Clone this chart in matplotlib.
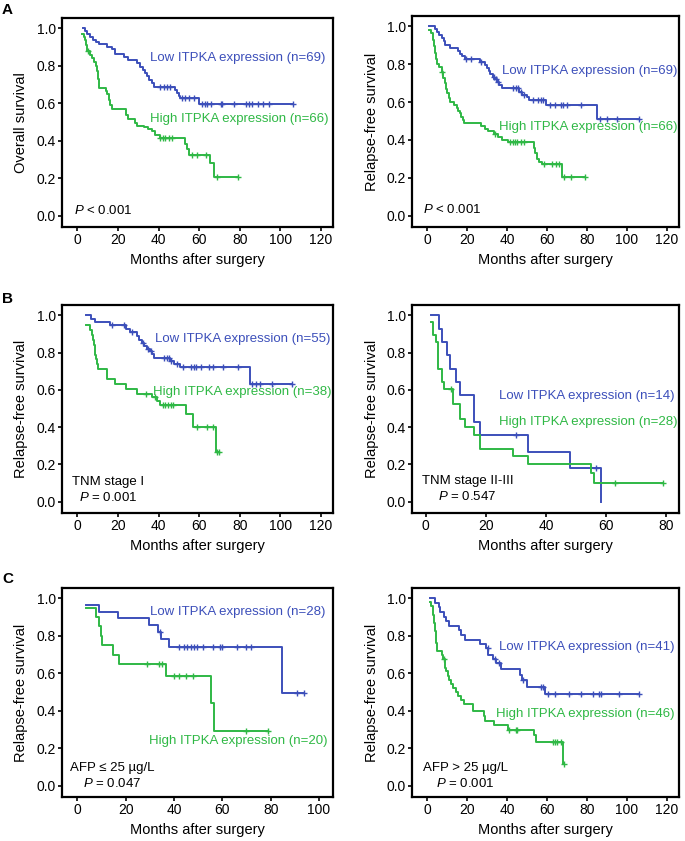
import numpy as np
import matplotlib
matplotlib.use('Agg')
import matplotlib.pyplot as plt

plt.rcParams['font.family'] = ['Liberation Sans', 'DejaVu Sans']
plt.rcParams['mathtext.fontset'] = 'custom'
plt.rcParams['mathtext.it'] = 'Liberation Sans:italic'
plt.rcParams['mathtext.rm'] = 'Liberation Sans'

BLUE = '#3c4fba'
GREEN = '#2fb845'

# --- A, overall survival ---
a1_low_start = (3.0, 1.0)
a1_low_t = [3.6, 4.8, 6.1, 7.8, 9.4, 10.8, 14.4, 16.9, 18.5, 23.0, 25.2, 29.3, 31.0, 32.6, 33.4,
            34.3, 35.1, 36.8, 37.6, 38.0, 48.3, 49.2, 50.0, 50.8, 59.9]
a1_low_s = [0.985, 0.97, 0.955, 0.94, 0.929, 0.915, 0.90, 0.89, 0.861, 0.845, 0.83, 0.813, 0.795,
            0.78, 0.76, 0.745, 0.724, 0.71, 0.70, 0.685, 0.67, 0.655, 0.64, 0.626, 0.594]
a1_low_cens = [40.9, 42.5, 44.2, 45.9, 51.7, 53.3, 55.0, 57.4, 61.6, 62.7, 64.0, 66.0, 70.7, 71.5,
               77.3, 83.1, 84.8, 86.0, 88.9, 91.4, 94.7, 106.3]
a1_low_end = 106.3

a1_high_start = (2.5, 0.97)
a1_high_t = [3.5, 4.0, 4.5, 5.0, 6.0, 7.0, 8.0, 9.0, 9.5, 10.3, 10.6, 14.0, 14.5, 15.5, 16.2, 17.2,
             24.2, 25.0, 28.5, 29.5, 33.0, 35.0, 37.0, 38.5, 40.5, 53.3, 54.2, 55.2, 65.3, 67.5]
a1_high_s = [0.955, 0.94, 0.91, 0.88, 0.86, 0.84, 0.82, 0.80, 0.77, 0.73, 0.68, 0.665, 0.65, 0.62,
             0.59, 0.57, 0.537, 0.516, 0.496, 0.48, 0.475, 0.465, 0.45, 0.43, 0.416, 0.385, 0.355,
             0.324, 0.279, 0.208]
a1_high_cens = [5.3, 40.9, 42.0, 43.4, 45.0, 46.7, 56.6, 59.0, 63.2, 69.0, 79.3]
a1_high_end = 79.3

# --- A, relapse-free survival ---
a2_low_start = (0.8, 1.0)
a2_low_t = [3.8, 5.0, 6.0, 7.4, 8.2, 9.0, 11.2, 15.6, 16.4, 17.3, 18.9, 26.3, 28.8, 30.0, 30.8,
            31.6, 32.9, 33.7, 34.8, 36.2, 37.3, 46.0, 47.7, 49.8, 51.0, 59.5, 85.0]
a2_low_s = [0.985, 0.97, 0.955, 0.94, 0.925, 0.90, 0.885, 0.87, 0.855, 0.842, 0.826, 0.81, 0.795,
            0.78, 0.765, 0.75, 0.735, 0.72, 0.705, 0.69, 0.677, 0.655, 0.64, 0.625, 0.613, 0.583,
            0.509]
a2_low_cens = [19.7, 22.0, 27.0, 33.5, 34.3, 35.3, 43.0, 44.5, 45.5, 47.0, 48.7, 53.0, 55.5, 57.0,
               58.0, 61.5, 64.0, 67.0, 68.0, 70.0, 77.0, 86.5, 90.0, 95.0, 106.0]
a2_low_end = 106.0

a2_high_start = (0.8, 0.982)
a2_high_t = [2.1, 2.7, 3.0, 3.3, 3.8, 4.3, 4.9, 5.8, 7.4, 8.0, 8.7, 9.2, 9.8, 10.7, 11.5, 13.2,
             14.8, 15.6, 16.4, 17.2, 17.8, 18.6, 27.0, 29.0, 30.7, 33.4, 35.3, 37.3, 40.3, 53.4,
             54.2, 54.8, 55.9, 57.5, 67.7]
a2_high_s = [0.965, 0.95, 0.93, 0.895, 0.86, 0.83, 0.80, 0.787, 0.76, 0.73, 0.70, 0.67, 0.65, 0.62,
             0.60, 0.585, 0.57, 0.555, 0.54, 0.52, 0.505, 0.491, 0.475, 0.46, 0.445, 0.43, 0.415,
             0.40, 0.39, 0.36, 0.33, 0.30, 0.285, 0.273, 0.202]
a2_high_cens = [7.5, 34.0, 41.5, 43.0, 44.0, 45.0, 47.0, 48.5, 58.5, 62.5, 64.5, 66.0, 68.5, 72.0,
                79.0]
a2_high_end = 79.0

# --- B, TNM stage I ---
b1_low_start = (4.1, 1.0)
b1_low_t = [6.5, 8.6, 16.0, 24.0, 26.0, 29.3, 30.5, 31.8, 33.0, 34.3, 36.0, 37.0, 38.0, 45.9, 47.5,
            50.8, 85.0]
b1_low_s = [0.982, 0.966, 0.946, 0.928, 0.91, 0.89, 0.87, 0.85, 0.835, 0.82, 0.81, 0.79, 0.773,
            0.755, 0.74, 0.724, 0.632]
b1_low_cens = [17.0, 23.0, 27.0, 32.5, 35.0, 36.5, 42.5, 44.0, 45.0, 46.0, 49.0, 52.0, 56.0, 57.5,
               58.5, 61.0, 65.0, 67.0, 72.0, 79.0, 86.0, 88.0, 90.0, 96.0, 106.0]
b1_low_end = 106.0

b1_high_start = (4.1, 0.947)
b1_high_t = [6.1, 7.0, 7.5, 8.3, 8.8, 9.3, 9.8, 10.3, 14.7, 18.5, 24.0, 29.3, 36.8, 39.2, 40.6,
             53.6, 56.8, 68.4]
b1_high_s = [0.921, 0.895, 0.868, 0.842, 0.789, 0.763, 0.737, 0.711, 0.658, 0.632, 0.605, 0.579,
             0.56, 0.54, 0.517, 0.47, 0.40, 0.268]
b1_high_cens = [34.0, 38.5, 42.0, 43.0, 44.5, 46.0, 47.0, 59.0, 64.0, 67.0, 69.0, 70.0]
b1_high_end = 70.0

# --- B, TNM stage II-III ---
b2_low_start = (1.6, 1.0)
b2_low_t = [4.4, 5.3, 7.1, 8.2, 9.9, 11.2, 16.0, 18.0, 34.0, 48.0, 58.3]
b2_low_s = [0.929, 0.857, 0.786, 0.714, 0.643, 0.571, 0.429, 0.357, 0.268, 0.179, 0.0]
b2_low_cens = [30.0, 56.5]
b2_low_end = 58.3

b2_high_start = (1.6, 0.964)
b2_high_t = [2.4, 3.3, 4.2, 5.3, 6.1, 9.0, 11.2, 13.0, 16.0, 18.0, 29.0, 34.0, 55.0, 56.0]
b2_high_s = [0.893, 0.857, 0.714, 0.643, 0.607, 0.526, 0.445, 0.40, 0.36, 0.283, 0.247, 0.20,
             0.157, 0.10]
b2_high_cens = [8.3, 63.0, 79.0]
b2_high_end = 79.0

# --- C, AFP <= 25 ---
c1_low_start = (3.7, 0.964)
c1_low_t = [8.8, 16.8, 29.7, 33.4, 34.8, 37.9, 84.8]
c1_low_s = [0.929, 0.893, 0.857, 0.82, 0.783, 0.742, 0.495]
c1_low_cens = [34.2, 42.0, 44.0, 45.5, 47.0, 48.5, 49.5, 52.0, 56.0, 59.0, 60.0, 66.0, 70.0, 72.0,
               91.0, 94.0]
c1_low_end = 94.0

c1_high_start = (3.7, 0.95)
c1_high_t = [7.9, 8.8, 9.7, 10.3, 14.8, 17.2, 36.6, 55.4, 56.6]
c1_high_s = [0.90, 0.85, 0.80, 0.75, 0.70, 0.65, 0.586, 0.44, 0.293]
c1_high_cens = [29.0, 34.0, 35.0, 40.0, 42.0, 45.0, 48.0, 70.0, 79.0]
c1_high_end = 79.0

# --- C, AFP > 25 ---
c2_low_start = (1.2, 1.0)
c2_low_t = [4.1, 5.8, 6.6, 8.2, 9.5, 11.0, 16.0, 17.0, 19.0, 26.5, 29.6, 30.7, 32.9, 34.5, 37.0,
            46.4, 47.7, 50.1, 59.2]
c2_low_s = [0.976, 0.951, 0.927, 0.902, 0.878, 0.854, 0.829, 0.805, 0.78, 0.756, 0.734, 0.70,
            0.676, 0.655, 0.625, 0.59, 0.565, 0.529, 0.489]
c2_low_cens = [30.5, 34.0, 36.0, 48.0, 57.0, 58.0, 60.5, 64.0, 71.0, 77.0, 83.0, 86.0, 87.0, 96.0,
               106.0]
c2_low_end = 106.0

c2_high_start = (1.2, 0.978)
c2_high_t = [2.0, 3.0, 3.5, 4.0, 4.3, 4.6, 5.0, 7.5, 8.0, 9.0, 9.5, 10.5, 11.0, 12.0, 13.0, 14.5,
             15.5, 17.0, 18.5, 23.0, 28.5, 29.1, 33.4, 40.3, 53.6, 54.3, 67.9]
c2_high_s = [0.957, 0.913, 0.87, 0.826, 0.783, 0.76, 0.721, 0.696, 0.674, 0.63, 0.61, 0.587, 0.565,
             0.543, 0.522, 0.50, 0.478, 0.457, 0.435, 0.40, 0.37, 0.348, 0.326, 0.30, 0.27, 0.236,
             0.118]
c2_high_cens = [8.2, 40.8, 44.5, 45.2, 63.0, 64.0, 65.0, 67.0, 68.6]
c2_high_end = 68.6


def km(ax, start, t, s, cens, end, color):
    x = np.r_[start[0], t, end]
    y = np.r_[start[1], s, s[-1]]
    ax.step(x, y, where='post', color=color, lw=1.4, zorder=3)
    idx = np.searchsorted(x, cens, side='right') - 1
    ax.plot(cens, y[np.clip(idx, 0, len(y) - 1)], ls='none', marker='+', ms=4,
            mew=1.0, color=color, zorder=4)


def style(ax, xmax, ylabel):
    ax.set_xlim(-0.063 * xmax, xmax * 1.05)
    ax.set_ylim(-0.06, 1.055)
    ax.set_xticks(np.arange(0, xmax + 1, 20))
    ax.set_yticks(np.arange(0, 1.01, 0.2))
    ax.set_yticklabels([f'{v:.1f}' for v in np.arange(0, 1.01, 0.2)])
    ax.tick_params(direction='out', length=3, width=1.2, labelsize=10, pad=1.5)
    for sp in ax.spines.values():
        sp.set_linewidth(1.6)
    ax.set_xlabel('Months after surgery', fontsize=10.5)
    ax.set_ylabel(ylabel, fontsize=10.5)
    ax.xaxis.set_label_coords(0.5, -0.125)
    ax.yaxis.set_label_coords(-0.125, 0.5)


fig = plt.figure(figsize=(6.85, 8.41), dpi=100)
W, H = 685, 841


def add_ax(left, top, right, bottom):
    return fig.add_axes([left / W, 1 - bottom / H, (right - left) / W, (bottom - top) / H])


fs = 9.5

# Panel A
ax = add_ax(62, 18, 333, 227)
km(ax, a1_low_start, a1_low_t, a1_low_s, a1_low_cens, a1_low_end, BLUE)
km(ax, a1_high_start, a1_high_t, a1_high_s, a1_high_cens, a1_high_end, GREEN)
style(ax, 120, 'Overall survival')
ax.text(35.6, 0.84, 'Low ITPKA expression (n=69)', color=BLUE, fontsize=fs, va='center')
ax.text(35.9, 0.516, 'High ITPKA expression (n=66)', color=GREEN, fontsize=fs, va='center')
ax.text(-1.8, 0.027, '$P$ < 0.001', fontsize=fs, va='center')

ax = add_ax(412, 16, 679, 227)
km(ax, a2_low_start, a2_low_t, a2_low_s, a2_low_cens, a2_low_end, BLUE)
km(ax, a2_high_start, a2_high_t, a2_high_s, a2_high_cens, a2_high_end, GREEN)
style(ax, 120, 'Relapse-free survival')
ax.text(37.3, 0.762, 'Low ITPKA expression (n=69)', color=BLUE, fontsize=fs, va='center')
ax.text(36.2, 0.468, 'High ITPKA expression (n=66)', color=GREEN, fontsize=fs, va='center')
ax.text(-2.1, 0.03, '$P$ < 0.001', fontsize=fs, va='center')

# Panel B
ax = add_ax(62, 305, 333, 513)
km(ax, b1_low_start, b1_low_t, b1_low_s, b1_low_cens, b1_low_end, BLUE)
km(ax, b1_high_start, b1_high_t, b1_high_s, b1_high_cens, b1_high_end, GREEN)
style(ax, 120, 'Relapse-free survival')
ax.text(38.4, 0.872, 'Low ITPKA expression (n=55)', color=BLUE, fontsize=fs, va='center')
ax.text(37.1, 0.586, 'High ITPKA expression (n=38)', color=GREEN, fontsize=fs, va='center')
ax.text(15.2, 0.065, 'TNM stage I\n$P$ = 0.001', fontsize=fs, va='center', ha='center',
        multialignment='center', linespacing=1.3)

ax = add_ax(412, 305, 679, 513)
km(ax, b2_low_start, b2_low_t, b2_low_s, b2_low_cens, b2_low_end, BLUE)
km(ax, b2_high_start, b2_high_t, b2_high_s, b2_high_cens, b2_high_end, GREEN)
style(ax, 80, 'Relapse-free survival')
ax.set_xlim(-4.6, 84.2)
ax.text(24.3, 0.568, 'Low ITPKA expression (n=14)', color=BLUE, fontsize=fs, va='center')
ax.text(24.3, 0.43, 'High ITPKA expression (n=28)', color=GREEN, fontsize=fs, va='center')
ax.text(13.9, 0.068, 'TNM stage II-III\n$P$ = 0.547', fontsize=fs, va='center', ha='center',
        multialignment='center', linespacing=1.3)

# Panel C
ax = add_ax(62, 588, 333, 797)
km(ax, c1_low_start, c1_low_t, c1_low_s, c1_low_cens, c1_low_end, BLUE)
km(ax, c1_high_start, c1_high_t, c1_high_s, c1_high_cens, c1_high_end, GREEN)
style(ax, 100, 'Relapse-free survival')
ax.set_xlim(-6.3, 105.8)
ax.text(30.3, 0.928, 'Low ITPKA expression (n=28)', color=BLUE, fontsize=fs, va='center')
ax.text(29.5, 0.238, 'High ITPKA expression (n=20)', color=GREEN, fontsize=fs, va='center')
ax.text(14.5, 0.05, 'AFP ≤ 25 µg/L\n$P$ = 0.047', fontsize=fs, va='center', ha='center',
        multialignment='center', linespacing=1.3)

ax = add_ax(412, 588, 679, 797)
km(ax, c2_low_start, c2_low_t, c2_low_s, c2_low_cens, c2_low_end, BLUE)
km(ax, c2_high_start, c2_high_t, c2_high_s, c2_high_cens, c2_high_end, GREEN)
style(ax, 120, 'Relapse-free survival')
ax.text(36.2, 0.739, 'Low ITPKA expression (n=41)', color=BLUE, fontsize=fs, va='center')
ax.text(34.7, 0.384, 'High ITPKA expression (n=46)', color=GREEN, fontsize=fs, va='center')
ax.text(19.2, 0.05, 'AFP > 25 µg/L\n$P$ = 0.001', fontsize=fs, va='center', ha='center',
        multialignment='center', linespacing=1.3)

for lab, y in [('A', 3), ('B', 292), ('C', 572)]:
    fig.text(2 / W, 1 - y / H, lab, fontsize=11, fontweight='bold', va='top', ha='left')

fig.savefig('out.png', dpi=100)
